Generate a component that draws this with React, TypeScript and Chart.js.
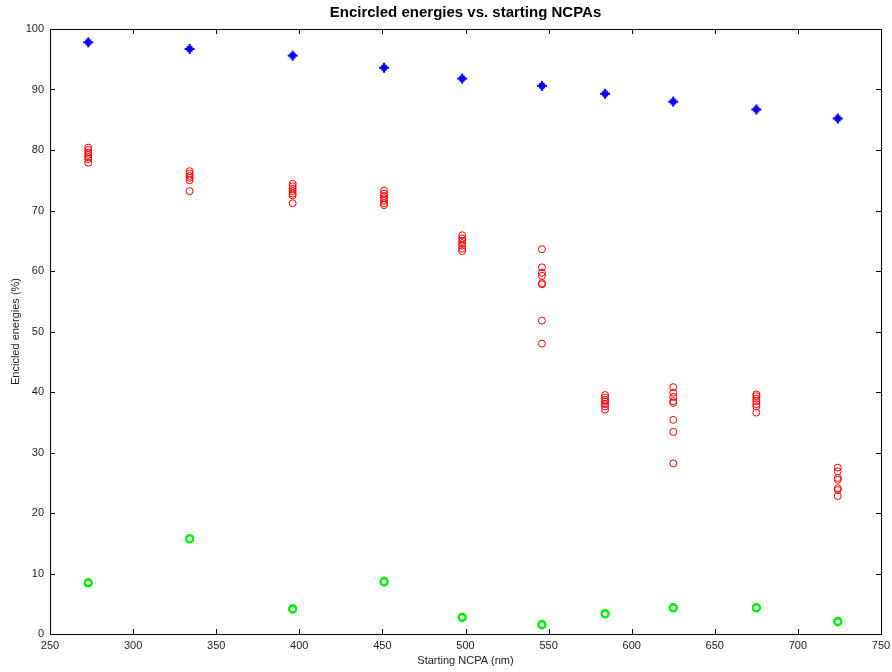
import React, { useEffect, useRef } from "react";
import { Chart, registerables } from "chart.js";

Chart.register(...registerables);

const ncpaPositions = [273, 334, 396, 451, 498, 546, 584, 625, 675, 724];

const blueValues = [97.8, 96.7, 95.6, 93.6, 91.8, 90.6, 89.3, 88.0, 86.7, 85.2];

const greenValues = [8.4, 15.7, 4.1, 8.6, 2.7, 1.5, 3.3, 4.3, 4.3, 2.0];

const redValues: number[][] = [
  [80.4, 80.0, 79.6, 79.2, 78.8, 78.5, 77.9],
  [76.5, 76.1, 75.7, 75.4, 75.0, 73.2],
  [74.4, 74.0, 73.6, 73.2, 72.8, 72.5, 71.2],
  [73.3, 72.8, 72.4, 72.0, 71.6, 71.2, 70.9],
  [65.9, 65.4, 65.0, 64.6, 64.2, 63.7, 63.3],
  [63.6, 60.6, 59.7, 59.2, 58.0, 57.8, 51.8, 48.0],
  [39.5, 39.1, 38.7, 38.4, 38.0, 37.6, 37.1],
  [40.8, 39.9, 39.2, 38.5, 38.2, 35.4, 33.4, 28.2],
  [39.6, 39.3, 38.9, 38.5, 38.0, 37.6, 36.6],
  [27.5, 26.9, 25.8, 25.5, 24.1, 23.8, 22.8],
];

const xTicks = [250, 300, 350, 400, 450, 500, 550, 600, 650, 700, 750];
const yTicks = [0, 10, 20, 30, 40, 50, 60, 70, 80, 90, 100];

const chartTitle = "Encircled energies vs. starting NCPAs";
const xTitle = "Starting NCPA (nm)";
const yTitle = "Encicled energies (%)";

const FONT = "'Liberation Sans', Arial, sans-serif";

function makeBlueMarker(): HTMLCanvasElement {
  const c = document.createElement("canvas");
  c.width = 12;
  c.height = 12;
  const g = c.getContext("2d")!;
  g.fillStyle = "#0000ff";
  g.strokeStyle = "#0000ff";
  g.beginPath();
  g.arc(6, 6, 3.4, 0, Math.PI * 2);
  g.fill();
  g.lineWidth = 2;
  g.beginPath();
  g.moveTo(1, 6);
  g.lineTo(11, 6);
  g.moveTo(6, 1);
  g.lineTo(6, 11);
  g.stroke();
  return c;
}

export default function App() {
  const canvasRef = useRef<HTMLCanvasElement | null>(null);

  useEffect(() => {
    document.body.style.margin = "0";
    const canvas = canvasRef.current;
    if (!canvas) return;

    const redData: { x: number; y: number }[] = [];
    redValues.forEach((col, i) => col.forEach((v) => redData.push({ x: ncpaPositions[i], y: v })));
    const blueData = blueValues.map((v, i) => ({ x: ncpaPositions[i], y: v }));
    const greenData: { x: number; y: number }[] = [];
    greenValues.forEach((v, i) => {
      greenData.push({ x: ncpaPositions[i], y: v });
      greenData.push({ x: ncpaPositions[i], y: v + 0.1 });
    });

    const framePlugin = {
      id: "frame",
      afterDraw(chart: any) {
        const { ctx, chartArea: a, scales } = chart;
        ctx.save();
        ctx.strokeStyle = "#000";
        ctx.lineWidth = 1;
        ctx.strokeRect(Math.round(a.left) + 0.5, Math.round(a.top) + 0.5, Math.round(a.right - a.left), Math.round(a.bottom - a.top));
        const tl = 5;
        ctx.beginPath();
        xTicks.forEach((t) => {
          const px = Math.round(scales.x.getPixelForValue(t)) + 0.5;
          ctx.moveTo(px, a.bottom);
          ctx.lineTo(px, a.bottom - tl);
          ctx.moveTo(px, a.top);
          ctx.lineTo(px, a.top + tl);
        });
        yTicks.forEach((t) => {
          const py = Math.round(scales.y.getPixelForValue(t)) + 0.5;
          ctx.moveTo(a.left, py);
          ctx.lineTo(a.left + tl, py);
          ctx.moveTo(a.right, py);
          ctx.lineTo(a.right - tl, py);
        });
        ctx.stroke();

        ctx.fillStyle = "#000";
        ctx.textAlign = "center";
        ctx.textBaseline = "middle";
        ctx.font = `bold 15px ${FONT}`;
        ctx.fillText(chartTitle, (a.left + a.right) / 2, 13);
        ctx.font = `11px ${FONT}`;
        ctx.fillStyle = "#222";
        ctx.fillText(xTitle, (a.left + a.right) / 2, 661);
        ctx.translate(16, (a.top + a.bottom) / 2);
        ctx.rotate(-Math.PI / 2);
        ctx.fillText(yTitle, 0, 0);
        ctx.restore();
      },
    };

    const chart = new Chart(canvas, {
      type: "scatter",
      data: {
        datasets: [
          {
            data: redData,
            pointStyle: "circle",
            pointRadius: 3.5,
            borderColor: "#ff0000",
            backgroundColor: "rgba(0,0,0,0)",
            borderWidth: 1,
          },
          {
            data: greenData,
            pointStyle: "circle",
            pointRadius: 3.5,
            borderColor: "#00ee00",
            backgroundColor: "rgba(0,0,0,0)",
            borderWidth: 2,
          },
          {
            data: blueData,
            pointStyle: makeBlueMarker(),
            pointRadius: 5,
            borderColor: "#0000ff",
            backgroundColor: "#0000ff",
          },
        ],
      },
      options: {
        responsive: false,
        animation: false,
        devicePixelRatio: 1,
        layout: { padding: { top: 29, right: 11, left: 0, bottom: 0 } },
        plugins: { legend: { display: false }, title: { display: false }, tooltip: { enabled: false } },
        scales: {
          x: {
            type: "linear",
            min: 250,
            max: 750,
            afterBuildTicks: (s: any) => {
              s.ticks = xTicks.map((v) => ({ value: v }));
            },
            afterFit: (s: any) => {
              s.height = 38;
              s.paddingLeft = 0;
              s.paddingRight = 0;
            },
            grid: { display: false, drawTicks: false },
            border: { display: false },
            ticks: { padding: 5, color: "#222", font: { family: FONT, size: 11 }, maxRotation: 0, autoSkip: false },
          },
          y: {
            type: "linear",
            min: 0,
            max: 100,
            afterBuildTicks: (s: any) => {
              s.ticks = yTicks.map((v) => ({ value: v }));
            },
            afterFit: (s: any) => {
              s.width = 50;
              s.paddingTop = 0;
              s.paddingBottom = 0;
            },
            grid: { display: false, drawTicks: false },
            border: { display: false },
            ticks: { padding: 6, color: "#222", font: { family: FONT, size: 11 }, autoSkip: false },
          },
        },
      },
      plugins: [framePlugin],
    } as any);

    return () => chart.destroy();
  }, []);

  return (
    <div style={{ position: "absolute", left: 0, top: 0, width: 892, height: 672, background: "#fff" }}>
      <canvas ref={canvasRef} width={892} height={672} style={{ width: 892, height: 672, display: "block" }} />
    </div>
  );
}
